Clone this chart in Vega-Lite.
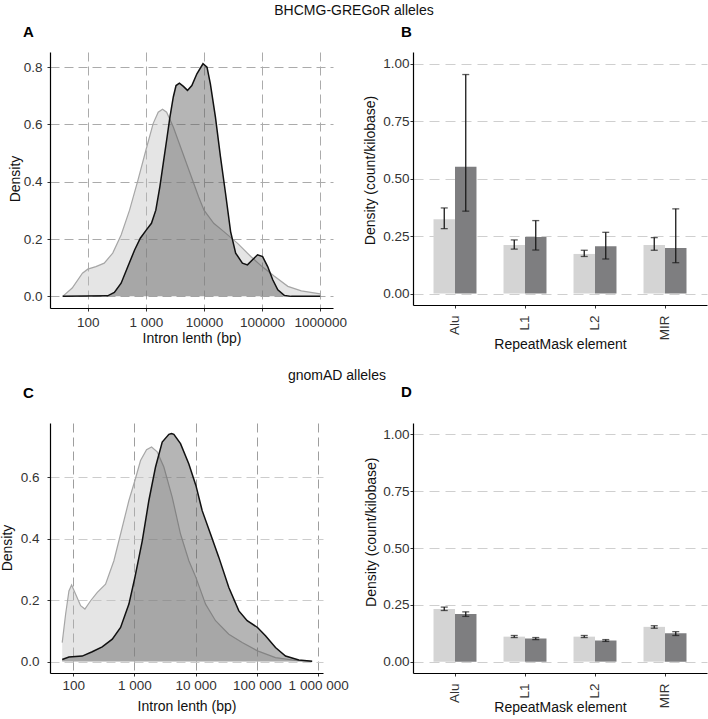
{
  "$schema": "https://vega.github.io/schema/vega-lite/v6.json",
  "autosize": {"type": "none"},
  "padding": {"left": 50, "top": 52, "right": 658, "bottom": 667},
  "background": "white",
  "spacing": 18,
  "datasets": {
    "densA": [
      {"group": "All introns", "length": 37, "density": 0.0},
      {"group": "All introns", "length": 54, "density": 0.029},
      {"group": "All introns", "length": 81, "density": 0.081},
      {"group": "All introns", "length": 100, "density": 0.095},
      {"group": "All introns", "length": 138, "density": 0.104},
      {"group": "All introns", "length": 192, "density": 0.116},
      {"group": "All introns", "length": 269, "density": 0.151},
      {"group": "All introns", "length": 375, "density": 0.214},
      {"group": "All introns", "length": 524, "density": 0.301},
      {"group": "All introns", "length": 731, "density": 0.406},
      {"group": "All introns", "length": 1000, "density": 0.51},
      {"group": "All introns", "length": 1334, "density": 0.603},
      {"group": "All introns", "length": 1629, "density": 0.643},
      {"group": "All introns", "length": 1936, "density": 0.653},
      {"group": "All introns", "length": 2275, "density": 0.643},
      {"group": "All introns", "length": 2965, "density": 0.591},
      {"group": "All introns", "length": 4140, "density": 0.51},
      {"group": "All introns", "length": 5781, "density": 0.429},
      {"group": "All introns", "length": 8072, "density": 0.348},
      {"group": "All introns", "length": 10000, "density": 0.301},
      {"group": "All introns", "length": 14720, "density": 0.255},
      {"group": "All introns", "length": 21980, "density": 0.226},
      {"group": "All introns", "length": 37500, "density": 0.186},
      {"group": "All introns", "length": 63970, "density": 0.139},
      {"group": "All introns", "length": 100000, "density": 0.104},
      {"group": "All introns", "length": 162900, "density": 0.07},
      {"group": "All introns", "length": 277300, "density": 0.035},
      {"group": "All introns", "length": 473200, "density": 0.019},
      {"group": "All introns", "length": 1000000, "density": 0.009},
      {"group": "Variant introns", "length": 37, "density": 0.0},
      {"group": "Variant introns", "length": 220, "density": 0.002},
      {"group": "Variant introns", "length": 287, "density": 0.014},
      {"group": "Variant introns", "length": 375, "density": 0.046},
      {"group": "Variant introns", "length": 490, "density": 0.104},
      {"group": "Variant introns", "length": 640, "density": 0.162},
      {"group": "Variant introns", "length": 802, "density": 0.203},
      {"group": "Variant introns", "length": 1021, "density": 0.232},
      {"group": "Variant introns", "length": 1247, "density": 0.255},
      {"group": "Variant introns", "length": 1483, "density": 0.301},
      {"group": "Variant introns", "length": 1742, "density": 0.383},
      {"group": "Variant introns", "length": 1991, "density": 0.464},
      {"group": "Variant introns", "length": 2275, "density": 0.545},
      {"group": "Variant introns", "length": 2594, "density": 0.626},
      {"group": "Variant introns", "length": 2965, "density": 0.696},
      {"group": "Variant introns", "length": 3304, "density": 0.736},
      {"group": "Variant introns", "length": 3776, "density": 0.744},
      {"group": "Variant introns", "length": 4426, "density": 0.733},
      {"group": "Variant introns", "length": 5200, "density": 0.719},
      {"group": "Variant introns", "length": 6180, "density": 0.736},
      {"group": "Variant introns", "length": 7551, "density": 0.777},
      {"group": "Variant introns", "length": 9616, "density": 0.812},
      {"group": "Variant introns", "length": 11270, "density": 0.8},
      {"group": "Variant introns", "length": 12880, "density": 0.742},
      {"group": "Variant introns", "length": 15740, "density": 0.626},
      {"group": "Variant introns", "length": 19230, "density": 0.487},
      {"group": "Variant introns", "length": 23500, "density": 0.359},
      {"group": "Variant introns", "length": 28710, "density": 0.226},
      {"group": "Variant introns", "length": 35080, "density": 0.151},
      {"group": "Variant introns", "length": 45810, "density": 0.116},
      {"group": "Variant introns", "length": 55980, "density": 0.11},
      {"group": "Variant introns", "length": 68390, "density": 0.128},
      {"group": "Variant introns", "length": 83560, "density": 0.145},
      {"group": "Variant introns", "length": 102100, "density": 0.139},
      {"group": "Variant introns", "length": 124700, "density": 0.104},
      {"group": "Variant introns", "length": 152400, "density": 0.058},
      {"group": "Variant introns", "length": 186200, "density": 0.023},
      {"group": "Variant introns", "length": 243200, "density": 0.003},
      {"group": "Variant introns", "length": 317000, "density": 0.0},
      {"group": "Variant introns", "length": 1000000, "density": 0.0}
    ],
    "densC": [
      {"group": "All introns", "length": 66, "density": 0.062},
      {"group": "All introns", "length": 75, "density": 0.154},
      {"group": "All introns", "length": 85, "density": 0.23},
      {"group": "All introns", "length": 94, "density": 0.249},
      {"group": "All introns", "length": 109, "density": 0.22},
      {"group": "All introns", "length": 132, "density": 0.182},
      {"group": "All introns", "length": 155, "density": 0.171},
      {"group": "All introns", "length": 192, "density": 0.198},
      {"group": "All introns", "length": 247, "density": 0.225},
      {"group": "All introns", "length": 337, "density": 0.252},
      {"group": "All introns", "length": 461, "density": 0.328},
      {"group": "All introns", "length": 593, "density": 0.415},
      {"group": "All introns", "length": 811, "density": 0.524},
      {"group": "All introns", "length": 1016, "density": 0.589},
      {"group": "All introns", "length": 1256, "density": 0.654},
      {"group": "All introns", "length": 1574, "density": 0.689},
      {"group": "All introns", "length": 1901, "density": 0.698},
      {"group": "All introns", "length": 2350, "density": 0.682},
      {"group": "All introns", "length": 3020, "density": 0.633},
      {"group": "All introns", "length": 4130, "density": 0.535},
      {"group": "All introns", "length": 5649, "density": 0.415},
      {"group": "All introns", "length": 7727, "density": 0.328},
      {"group": "All introns", "length": 10070, "density": 0.274},
      {"group": "All introns", "length": 14490, "density": 0.187},
      {"group": "All introns", "length": 21090, "density": 0.133},
      {"group": "All introns", "length": 34750, "density": 0.089},
      {"group": "All introns", "length": 57410, "density": 0.062},
      {"group": "All introns", "length": 102300, "density": 0.035},
      {"group": "All introns", "length": 200900, "density": 0.013},
      {"group": "All introns", "length": 426600, "density": 0.004},
      {"group": "All introns", "length": 798000, "density": 0.001},
      {"group": "Variant introns", "length": 66, "density": 0.007},
      {"group": "Variant introns", "length": 85, "density": 0.015},
      {"group": "Variant introns", "length": 140, "density": 0.018},
      {"group": "Variant introns", "length": 204, "density": 0.032},
      {"group": "Variant introns", "length": 297, "density": 0.048},
      {"group": "Variant introns", "length": 434, "density": 0.073},
      {"group": "Variant introns", "length": 593, "density": 0.111},
      {"group": "Variant introns", "length": 811, "density": 0.187},
      {"group": "Variant introns", "length": 1016, "density": 0.274},
      {"group": "Variant introns", "length": 1340, "density": 0.393},
      {"group": "Variant introns", "length": 1718, "density": 0.524},
      {"group": "Variant introns", "length": 2208, "density": 0.633},
      {"group": "Variant introns", "length": 2838, "density": 0.714},
      {"group": "Variant introns", "length": 3648, "density": 0.739},
      {"group": "Variant introns", "length": 4030, "density": 0.742},
      {"group": "Variant introns", "length": 4395, "density": 0.739},
      {"group": "Variant introns", "length": 5649, "density": 0.709},
      {"group": "Variant introns", "length": 7727, "density": 0.643},
      {"group": "Variant introns", "length": 10070, "density": 0.573},
      {"group": "Variant introns", "length": 12760, "density": 0.491},
      {"group": "Variant introns", "length": 17460, "density": 0.415},
      {"group": "Variant introns", "length": 23880, "density": 0.339},
      {"group": "Variant introns", "length": 34750, "density": 0.241},
      {"group": "Variant introns", "length": 50700, "density": 0.165},
      {"group": "Variant introns", "length": 69340, "density": 0.133},
      {"group": "Variant introns", "length": 102300, "density": 0.111},
      {"group": "Variant introns", "length": 138000, "density": 0.084},
      {"group": "Variant introns", "length": 200900, "density": 0.046},
      {"group": "Variant introns", "length": 293100, "density": 0.018},
      {"group": "Variant introns", "length": 483100, "density": 0.005},
      {"group": "Variant introns", "length": 798000, "density": 0.001}
    ],
    "barsB": [
      {"element": "Alu", "group": "All introns", "density": 0.323, "lo": 0.282, "hi": 0.372},
      {"element": "Alu", "group": "Variant introns", "density": 0.551, "lo": 0.358, "hi": 0.952},
      {"element": "L1", "group": "All introns", "density": 0.211, "lo": 0.193, "hi": 0.233},
      {"element": "L1", "group": "Variant introns", "density": 0.246, "lo": 0.189, "hi": 0.317},
      {"element": "L2", "group": "All introns", "density": 0.172, "lo": 0.161, "hi": 0.188},
      {"element": "L2", "group": "Variant introns", "density": 0.205, "lo": 0.15, "hi": 0.266},
      {"element": "MIR", "group": "All introns", "density": 0.211, "lo": 0.188, "hi": 0.243},
      {"element": "MIR", "group": "Variant introns", "density": 0.198, "lo": 0.134, "hi": 0.368}
    ],
    "barsD": [
      {"element": "Alu", "group": "All introns", "density": 0.232, "lo": 0.225, "hi": 0.24},
      {"element": "Alu", "group": "Variant introns", "density": 0.21, "lo": 0.199, "hi": 0.219},
      {"element": "L1", "group": "All introns", "density": 0.11, "lo": 0.106, "hi": 0.115},
      {"element": "L1", "group": "Variant introns", "density": 0.102, "lo": 0.097, "hi": 0.106},
      {"element": "L2", "group": "All introns", "density": 0.11, "lo": 0.106, "hi": 0.115},
      {"element": "L2", "group": "Variant introns", "density": 0.093, "lo": 0.089, "hi": 0.097},
      {"element": "MIR", "group": "All introns", "density": 0.153, "lo": 0.147, "hi": 0.158},
      {"element": "MIR", "group": "Variant introns", "density": 0.125, "lo": 0.115, "hi": 0.132}
    ]
  },
  "vconcat": [
    {
      "title": {"text": "BHCMG-GREGoR alleles", "anchor": "start", "frame": "group", "align": "center", "dx": 304, "offset": -3.5, "fontSize": 14, "fontWeight": "normal", "color": "#111", "baseline": "alphabetic"},
      "bounds": "flush",
      "spacing": 80,
      "hconcat": [
        {
          "width": 283, "height": 256,
          "title": {"text": "A", "anchor": "start", "frame": "group", "dx": -27, "offset": 0, "fontSize": 15, "fontWeight": "bold", "color": "#000", "baseline": "alphabetic"},
          "data": {"name": "densA"},
          "encoding": {
            "x": {"field": "length", "type": "quantitative", "scale": {"type": "log", "domain": [22.4, 1660000], "nice": false},
                  "axis": {"values": [100, 1000, 10000, 100000, 1000000], "labelExpr": "datum.value == 1000 ? '1 000' : format(datum.value, 'd')", "title": "Intron lenth (bp)", "grid": true, "gridColor": "#ababab", "labelPadding": 4, "labelFlush": false, "labelOverlap": false, "titleY": 34, "titleBaseline": "alphabetic"}},
            "y": {"field": "density", "type": "quantitative", "scale": {"domain": [-0.0406, 0.853], "nice": false, "zero": false},
                  "axis": {"values": [0, 0.2, 0.4, 0.6, 0.8], "format": ".1f", "title": "Density", "grid": true, "gridColor": "#ababab", "labelPadding": 5, "titleX": -35, "titleY": 126.5, "titleBaseline": "middle"}}
          },
          "layer": [
            {"transform": [{"filter": "datum.group == 'All introns'"}], "mark": {"type": "area", "color": "#bfbfbf", "opacity": 0.4}, "encoding": {"y2": {"datum": 0}}},
            {"transform": [{"filter": "datum.group == 'All introns'"}], "mark": {"type": "line", "color": "#a6a6a6", "strokeWidth": 1.2}, "encoding": {}},
            {"transform": [{"filter": "datum.group == 'Variant introns'"}], "mark": {"type": "area", "color": "#5a5a5a", "opacity": 0.45}, "encoding": {"y2": {"datum": 0}}},
            {"transform": [{"filter": "datum.group == 'Variant introns'"}], "mark": {"type": "line", "color": "#111111", "strokeWidth": 1.5}, "encoding": {}}
          ]
        },
        {
          "width": 294, "height": 253,
          "title": {"text": "B", "anchor": "start", "frame": "group", "dx": -12, "offset": 0, "fontSize": 15, "fontWeight": "bold", "color": "#000", "baseline": "alphabetic"},
          "data": {"name": "barsB"},
          "encoding": {
            "x": {"field": "element", "type": "nominal", "scale": {"paddingInner": 0.386, "paddingOuter": 0.293},
                  "axis": {"title": "RepeatMask element", "labelAngle": 270, "labelAlign": "right", "labelBaseline": "middle", "labelPadding": 7, "titleY": 43, "titleBaseline": "alphabetic", "grid": false}},
            "xOffset": {"field": "group", "type": "nominal", "scale": {"paddingInner": 0, "paddingOuter": 0}},
            "y": {"field": "density", "type": "quantitative", "scale": {"domain": [-0.05, 1.05], "nice": false, "zero": false},
                  "axis": {"values": [0, 0.25, 0.5, 0.75, 1], "format": ".2f", "title": "Density (count/kilobase)", "grid": true, "gridColor": "#cfcfcf", "gridDash": [10, 6], "labelPadding": 1, "titleX": -42.5, "titleY": 118, "titleBaseline": "middle"}}
          },
          "layer": [
            {"mark": {"type": "bar"}, "encoding": {"y2": {"datum": 0}, "color": {"field": "group", "type": "nominal", "scale": {"range": ["#d4d4d4", "#7e7e80"]}, "legend": null}}},
            {"mark": {"type": "rule", "color": "#1a1a1a", "strokeWidth": 1.3}, "encoding": {"y": {"field": "lo", "type": "quantitative"}, "y2": {"field": "hi"}}},
            {"mark": {"type": "tick", "color": "#1a1a1a", "size": 7, "thickness": 1.3}, "encoding": {"y": {"field": "lo", "type": "quantitative"}}},
            {"mark": {"type": "tick", "color": "#1a1a1a", "size": 7, "thickness": 1.3}, "encoding": {"y": {"field": "hi", "type": "quantitative"}}}
          ]
        }
      ]
    },
    {
      "title": {"text": "gnomAD alleles", "anchor": "start", "frame": "group", "align": "center", "dx": 287, "offset": -9, "fontSize": 14, "fontWeight": "normal", "color": "#111", "baseline": "alphabetic"},
      "bounds": "flush",
      "spacing": 90,
      "hconcat": [
        {
          "width": 273, "height": 250,
          "title": {"text": "C", "anchor": "start", "frame": "group", "dx": -27, "offset": 10, "fontSize": 15, "fontWeight": "bold", "color": "#000", "baseline": "alphabetic"},
          "data": {"name": "densC"},
          "encoding": {
            "x": {"field": "length", "type": "quantitative", "scale": {"type": "log", "domain": [41.7, 1200000], "nice": false},
                  "axis": {"values": [100, 1000, 10000, 100000, 1000000], "labelExpr": "datum.value == 100 ? '100' : datum.value == 1000 ? '1 000' : datum.value == 10000 ? '10 000' : datum.value == 100000 ? '100 000' : '1 000 000'", "title": "Intron lenth (bp)", "grid": true, "gridColor": "#9e9e9e", "labelPadding": 2, "labelFlush": false, "labelOverlap": false, "titleY": 37, "titleBaseline": "alphabetic"}},
            "y": {"field": "density", "type": "quantitative", "scale": {"domain": [-0.037, 0.776], "nice": false, "zero": false},
                  "axis": {"values": [0, 0.2, 0.4, 0.6], "format": ".1f", "title": "Density", "grid": true, "gridColor": "#cccccc", "labelPadding": 8, "titleX": -42.5, "titleY": 124.5, "titleBaseline": "middle"}}
          },
          "layer": [
            {"transform": [{"filter": "datum.group == 'All introns'"}], "mark": {"type": "area", "color": "#bfbfbf", "opacity": 0.4}, "encoding": {"y2": {"datum": 0}}},
            {"transform": [{"filter": "datum.group == 'All introns'"}], "mark": {"type": "line", "color": "#a6a6a6", "strokeWidth": 1.2}, "encoding": {}},
            {"transform": [{"filter": "datum.group == 'Variant introns'"}], "mark": {"type": "area", "color": "#5a5a5a", "opacity": 0.45}, "encoding": {"y2": {"datum": 0}}},
            {"transform": [{"filter": "datum.group == 'Variant introns'"}], "mark": {"type": "line", "color": "#111111", "strokeWidth": 1.5}, "encoding": {}}
          ]
        },
        {
          "width": 294, "height": 250,
          "title": {"text": "D", "anchor": "start", "frame": "group", "dx": -12, "offset": 11, "fontSize": 15, "fontWeight": "bold", "color": "#000", "baseline": "alphabetic"},
          "data": {"name": "barsD"},
          "encoding": {
            "x": {"field": "element", "type": "nominal", "scale": {"paddingInner": 0.386, "paddingOuter": 0.293},
                  "axis": {"title": "RepeatMask element", "labelAngle": 270, "labelAlign": "right", "labelBaseline": "middle", "labelPadding": 7, "titleY": 38, "titleBaseline": "alphabetic", "grid": false}},
            "xOffset": {"field": "group", "type": "nominal", "scale": {"paddingInner": 0, "paddingOuter": 0}},
            "y": {"field": "density", "type": "quantitative", "scale": {"domain": [-0.05, 1.05], "nice": false, "zero": false},
                  "axis": {"values": [0, 0.25, 0.5, 0.75, 1], "format": ".2f", "title": "Density (count/kilobase)", "grid": true, "gridColor": "#cfcfcf", "gridDash": [10, 6], "labelPadding": 1, "titleX": -41.5, "titleY": 108.7, "titleBaseline": "middle"}}
          },
          "layer": [
            {"mark": {"type": "bar"}, "encoding": {"y2": {"datum": 0}, "color": {"field": "group", "type": "nominal", "scale": {"range": ["#d4d4d4", "#7e7e80"]}, "legend": null}}},
            {"mark": {"type": "rule", "color": "#1a1a1a", "strokeWidth": 1.3}, "encoding": {"y": {"field": "lo", "type": "quantitative"}, "y2": {"field": "hi"}}},
            {"mark": {"type": "tick", "color": "#1a1a1a", "size": 7, "thickness": 1.3}, "encoding": {"y": {"field": "lo", "type": "quantitative"}}},
            {"mark": {"type": "tick", "color": "#1a1a1a", "size": 7, "thickness": 1.3}, "encoding": {"y": {"field": "hi", "type": "quantitative"}}}
          ]
        }
      ]
    }
  ],
  "config": {
    "font": "Liberation Sans",
    "view": {"stroke": null},
    "axis": {"domainColor": "#000000", "domainWidth": 1.2, "tickColor": "#333333", "tickSize": 3, "tickWidth": 1, "labelFontSize": 13.5, "labelColor": "#333333", "titleFontSize": 14, "titleFontWeight": "normal", "titleColor": "#111111", "gridDash": [9, 5], "gridWidth": 1},
    "title": {"font": "Liberation Sans"}
  }
}
